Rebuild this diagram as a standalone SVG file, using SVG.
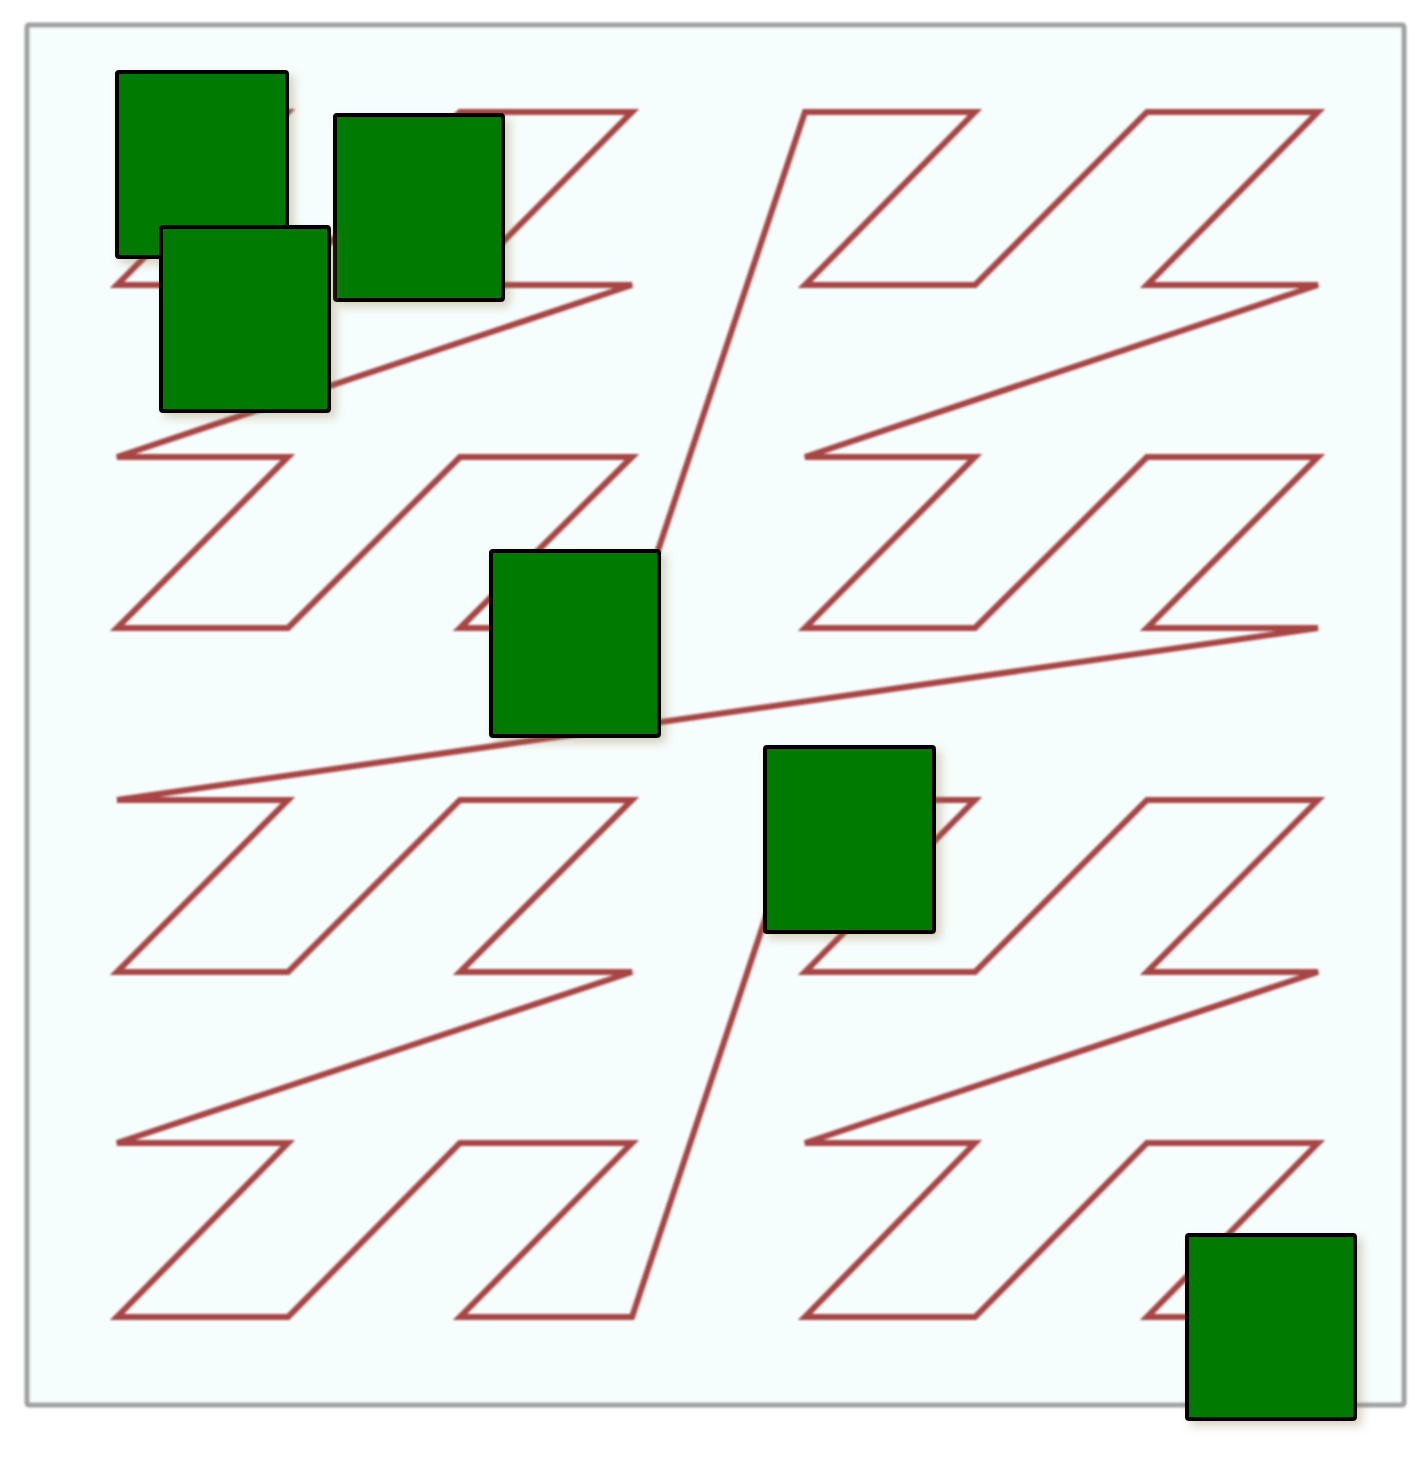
<svg xmlns="http://www.w3.org/2000/svg" width="1425" height="1457" viewBox="0 0 1425 1457">
  <defs>
    <filter id="soft" x="-5%" y="-5%" width="110%" height="110%">
      <feGaussianBlur stdDeviation="1.2"/>
    </filter>
    <filter id="shadow" x="-20%" y="-20%" width="140%" height="140%">
      <feDropShadow dx="5" dy="5" stdDeviation="5" flood-color="#8b6a3a" flood-opacity="0.3"/>
    </filter>
  </defs>
  <style>
    .frame { fill: #f6fdfd; stroke: #a0a0a0; stroke-width: 5; }
    .curve { fill: none; stroke: #a84444; stroke-width: 6; stroke-linejoin: miter; }
    .node rect { fill: #007a00; stroke: #000000; stroke-width: 4; }
  </style>
  <rect class="frame" x="27" y="25" width="1377" height="1380" rx="2" filter="url(#soft)"/>
  <g id="connectors">
    <polyline class="curve" filter="url(#soft)" points="117,112 288,112 117,285 288,285 460,112 632,112 460,285 632,285 117,457 288,457 117,628 288,628 460,457 632,457 460,628 632,628 805,112 975,112 805,285 975,285 1147,112 1318,112 1147,285 1318,285 805,457 975,457 805,628 975,628 1147,457 1318,457 1147,628 1318,628 117,800 288,800 117,972 288,972 460,800 632,800 460,972 632,972 117,1143 288,1143 117,1317 288,1317 460,1143 632,1143 460,1317 632,1317 805,800 975,800 805,972 975,972 1147,800 1318,800 1147,972 1318,972 805,1143 975,1143 805,1317 975,1317 1147,1143 1318,1143 1147,1317 1318,1317"/>
  </g>
  <g id="node1" class="node" filter="url(#shadow)"><rect x="117" y="72" width="170" height="185" rx="2"/></g>
  <g id="node2" class="node" filter="url(#shadow)"><rect x="335" y="115" width="168" height="185" rx="2"/></g>
  <g id="node3" class="node" filter="url(#shadow)"><rect x="161" y="227" width="168" height="184" rx="2"/></g>
  <g id="node4" class="node" filter="url(#shadow)"><rect x="491" y="551" width="168" height="185" rx="2"/></g>
  <g id="node5" class="node" filter="url(#shadow)"><rect x="765" y="747" width="169" height="185" rx="2"/></g>
  <g id="node6" class="node" filter="url(#shadow)"><rect x="1187" y="1235" width="168" height="184" rx="2"/></g>
</svg>
